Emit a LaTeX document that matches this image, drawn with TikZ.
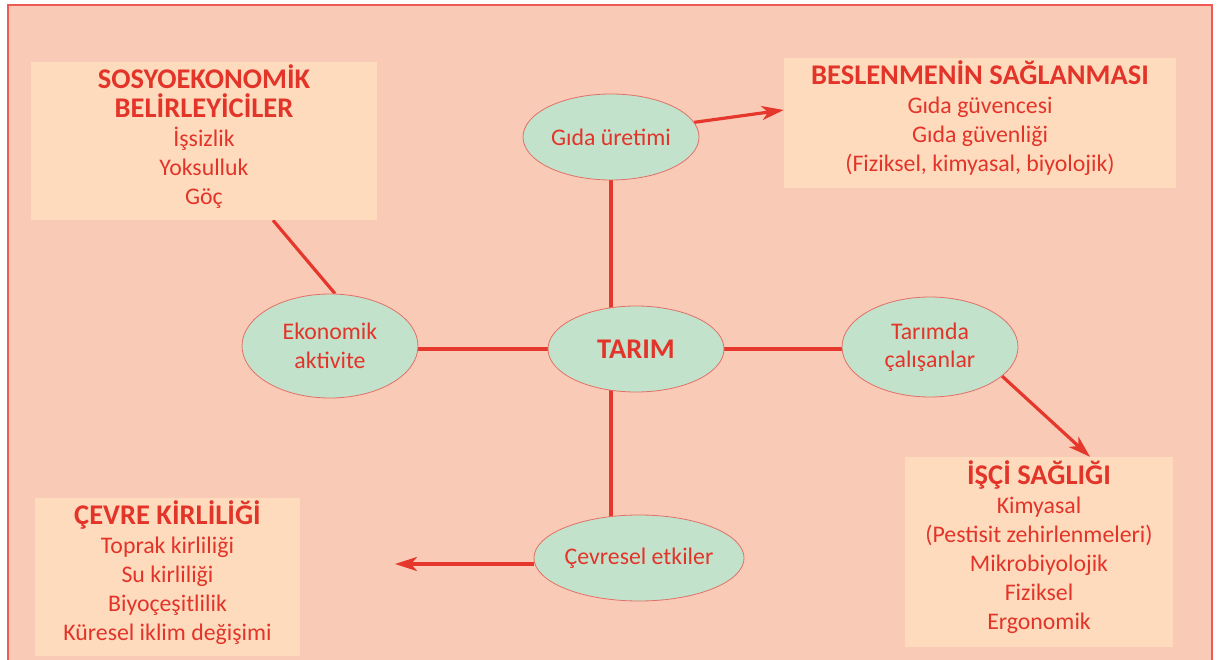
\documentclass[tikz,border=0pt]{standalone}
\usepackage{fontspec}
\setmainfont{Carlito}
\usetikzlibrary{arrows.meta,shapes.geometric}
\pgfdeclarelayer{back}
\pgfdeclarelayer{lines}
\pgfsetlayers{back,lines,main}
\definecolor{frameC}{HTML}{F9CAB6}
\definecolor{frameL}{HTML}{EE5A55}
\definecolor{boxC}{HTML}{FEDBBD}
\definecolor{ellC}{HTML}{C2E2CB}
\definecolor{ellB}{HTML}{E27068}
\definecolor{redT}{HTML}{E3342A}
\definecolor{lineC}{HTML}{E6372C}
\newcommand{\ttl}[1]{{\bfseries\fontsize{28.5}{29}\selectfont #1}}
\begin{document}
\begin{tikzpicture}[x=1pt,y=-1pt,
  box/.style={rectangle, fill=boxC, draw=none, inner sep=0pt},
  boxtext/.style={inner sep=0pt, align=center, text=redT,
    font=\fontsize{23.8}{29}\selectfont, yshift=4pt},
  ell/.style={ellipse, fill=ellC, draw=ellB, line width=0.8pt, inner sep=0pt,
    align=center, text=redT, font=\fontsize{23.8}{28.5}\selectfont, minimum width=176pt},
  conn/.style={draw=lineC, line width=3.2pt},
  arr/.style={conn, -{Stealth[length=22pt,width=14pt,inset=6pt]}}]
\useasboundingbox (0,0) rectangle (1222,660);
\begin{pgfonlayer}{back}
  \fill[frameC] (8,5) rectangle (1212,664);
  \draw[frameL, line width=1.5pt] (8,664) -- (8,5) -- (1212,5) -- (1212,664);
\end{pgfonlayer}

\node[box, minimum width=346pt, minimum height=158pt] (sosyo) at (204,141) {};
\node[boxtext] (sosyoT) at (sosyo.center)
  {\ttl{SOSYOEKONOMİK}\\\ttl{BELİRLEYİCİLER}\\İşsizlik\\Yoksulluk\\Göç};
\node[box, minimum width=392pt, minimum height=130pt] (besl) at (980,123) {};
\node[boxtext, yshift=1pt] (beslT) at (besl.center)
  {\ttl{BESLENMENİN SAĞLANMASI}\\Gıda güvencesi\\Gıda güvenliği\\(Fiziksel, kimyasal, biyolojik)};
\node[box, minimum width=268pt, minimum height=190pt] (isci) at (1039,552) {};
\node[boxtext, yshift=1pt] (isciT) at (isci.center)
  {\ttl{İŞÇİ SAĞLIĞI}\\Kimyasal\\(Pestisit zehirlenmeleri)\\Mikrobiyolojik\\Fiziksel\\Ergonomik};
\node[box, minimum width=265pt, minimum height=158pt] (cevk) at (167.5,577) {};
\node[boxtext] (cevkT) at (cevk.center)
  {\ttl{ÇEVRE KİRLİLİĞİ}\\Toprak kirliliği\\Su kirliliği\\Biyoçeşitlilik\\Küresel iklim değişimi};

\node[ell, minimum height=86pt] (gida) at (611,137) {Gıda üretimi};
\node[ell, minimum height=86pt] (tarim) at (636,349) {\ttl{TARIM}};
\node[ell, minimum height=104pt] (ekon) at (330,346) {Ekonomik\\aktivite};
\node[ell, minimum height=100pt] (tarimda) at (930,347) {Tarımda\\çalışanlar};
\node[ell, minimum height=86pt] (cevre) at (639,558) {Çevresel etkiler};

\coordinate (cevend) at (395,564);
\begin{pgfonlayer}{lines}
  \draw[conn] (gida.center) -- (gida.center |- tarim.center);
  \draw[conn] (gida.center |- tarim.center) -- (gida.center |- cevre.center);
  \draw[conn] (ekon.center |- tarim.center) -- (tarimda.center |- tarim.center);
  \draw[conn] ([xshift=69pt]sosyo.south) -- ([xshift=5pt]ekon.north);
  \draw[arr] (gida.10) -- ([yshift=13pt]besl.west);
  \draw[arr] (tarimda.-22) -- ([xshift=51pt]isci.north);
  \draw[arr] (cevre.west |- cevend) -- (cevend);
\end{pgfonlayer}
\end{tikzpicture}
\end{document}
